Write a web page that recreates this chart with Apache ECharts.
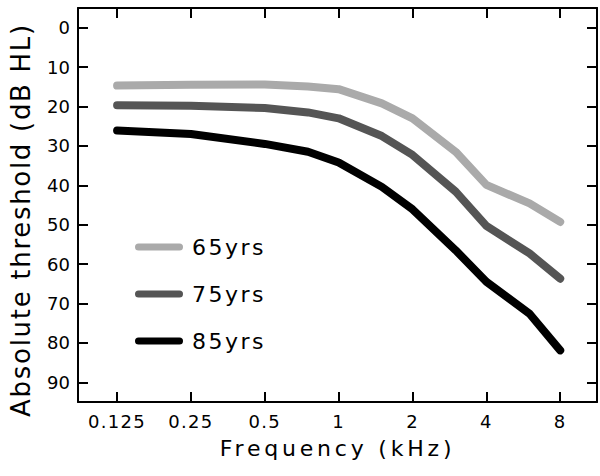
<!DOCTYPE html>
<html>
<head>
<meta charset="utf-8">
<script src="https://cdn.jsdelivr.net/npm/echarts@6/dist/echarts.min.js"></script>
<style>
  html, body { margin: 0; padding: 0; background: #fff; }
  #chart { width: 600px; height: 476px; }
</style>
</head>
<body>
<div id="chart"></div>
<script>
// audiometric frequencies (kHz) and mean thresholds (dB HL) per age group
const freqs = [0.125, 0.25, 0.5, 0.75, 1, 1.5, 2, 3, 4, 6, 8];
const thr65 = [14.7, 14.5, 14.4, 14.9, 15.6, 19.2, 23.0, 31.5, 39.9, 44.6, 49.3];
const thr75 = [19.7, 19.8, 20.4, 21.5, 23.0, 27.5, 32.3, 41.6, 50.3, 57.3, 63.7];
const thr85 = [26.1, 27.0, 29.5, 31.5, 34.2, 40.4, 46.1, 56.5, 64.5, 72.6, 81.9];
const groups = ["65yrs", "75yrs", "85yrs"];
const colors = ["#aaaaaa", "#555555", "#000000"];
const freqTicks = [0.125, 0.25, 0.5, 1, 2, 4, 8];
const dbTicks = [0, 10, 20, 30, 40, 50, 60, 70, 80, 90];

const font = "DejaVu Sans";
const xMin = 0.0866, xMax = 11.3;

const chart = echarts.init(document.getElementById("chart"), null, { renderer: "svg" });

const pairs = (ys) => freqs.map((f, i) => [f, ys[i]]);

function xAxisBox(pos, labels) {
  return {
    type: "log",
    logBase: 2,
    position: pos,
    min: xMin,
    max: xMax,
    name: labels ? "Frequency (kHz)" : "",
    nameLocation: "middle",
    nameGap: 35,
    nameTextStyle: { fontFamily: font, fontSize: 22, color: "#000" },
    axisLine: { onZero: false, lineStyle: { color: "#000", width: 2 } },
    axisTick: { show: true, inside: true, length: 10, lineStyle: { color: "#000", width: 2 }, customValues: freqTicks },
    axisLabel: {
      show: labels,
      margin: 10,
      fontFamily: font,
      fontSize: 18,
      color: "#000",
      customValues: freqTicks,
      formatter: (v) => String(+(+v).toFixed(3)),
    },
    splitLine: { show: false },
    minorTick: { show: false },
  };
}

function yAxisBox(pos, labels) {
  return {
    type: "value",
    position: pos,
    inverse: true,
    min: -5,
    max: 95,
    name: labels ? "Absolute threshold (dB HL)" : "",
    nameLocation: "middle",
    nameGap: 44,
    // right padding pushes the rotated title a little down, as in the original
    nameTextStyle: { fontFamily: font, fontSize: 26, color: "#000", padding: [0, 30, 0, 0] },
    axisLine: { show: true, onZero: false, lineStyle: { color: "#000", width: 2 } },
    axisTick: { show: true, inside: true, length: 10, lineStyle: { color: "#000", width: 2 }, customValues: dbTicks },
    axisLabel: {
      show: labels,
      margin: 8,
      fontFamily: font,
      fontSize: 18,
      color: "#000",
      customValues: dbTicks,
    },
    splitLine: { show: false },
  };
}

const option = {
  animation: false,
  backgroundColor: "#fff",
  grid: { left: 77, right: 3, top: 8, bottom: 74, containLabel: false },
  xAxis: [xAxisBox("bottom", true), xAxisBox("top", false)],
  yAxis: [yAxisBox("left", true), yAxisBox("right", false)],
  legend: {
    orient: "vertical",
    left: 135,
    top: 236,
    padding: 0,
    itemWidth: 48,
    itemHeight: 7,
    itemGap: 25,
    selectedMode: false,
    icon: "path://M3.5,0 L44.5,0 A3.5,3.5 0 0 1 44.5,7 L3.5,7 A3.5,3.5 0 0 1 3.5,0 Z",
    textStyle: { fontFamily: font, fontSize: 22, color: "#000", padding: [0, 0, 0, 4] },
    data: groups,
  },
  series: [thr65, thr75, thr85].map((ys, i) => ({
    name: groups[i],
    type: "line",
    xAxisIndex: 0,
    yAxisIndex: 0,
    data: pairs(ys),
    symbol: "none",
    smooth: false,
    color: colors[i],
    lineStyle: { color: colors[i], width: 8, cap: "round", join: "round" },
    itemStyle: { color: colors[i] },
  })),
};

chart.setOption(option);

// the original lettering is spaced out, add it on the svg text
function spaceLetters() {
  document.querySelectorAll("#chart svg text").forEach((t) => {
    const s = t.textContent.trim();
    let ls = 0;
    if (s === "Frequency (kHz)") ls = 3.8;
    else if (s === "Absolute threshold (dB HL)") ls = 1.7;
    else if (groups.includes(s)) ls = 2.5;
    else if (freqTicks.map(String).includes(s)) ls = 1.3;
    if (ls) t.setAttribute("letter-spacing", ls + "px");
  });
}
spaceLetters();
chart.on("finished", spaceLetters);
</script>
</body>
</html>
